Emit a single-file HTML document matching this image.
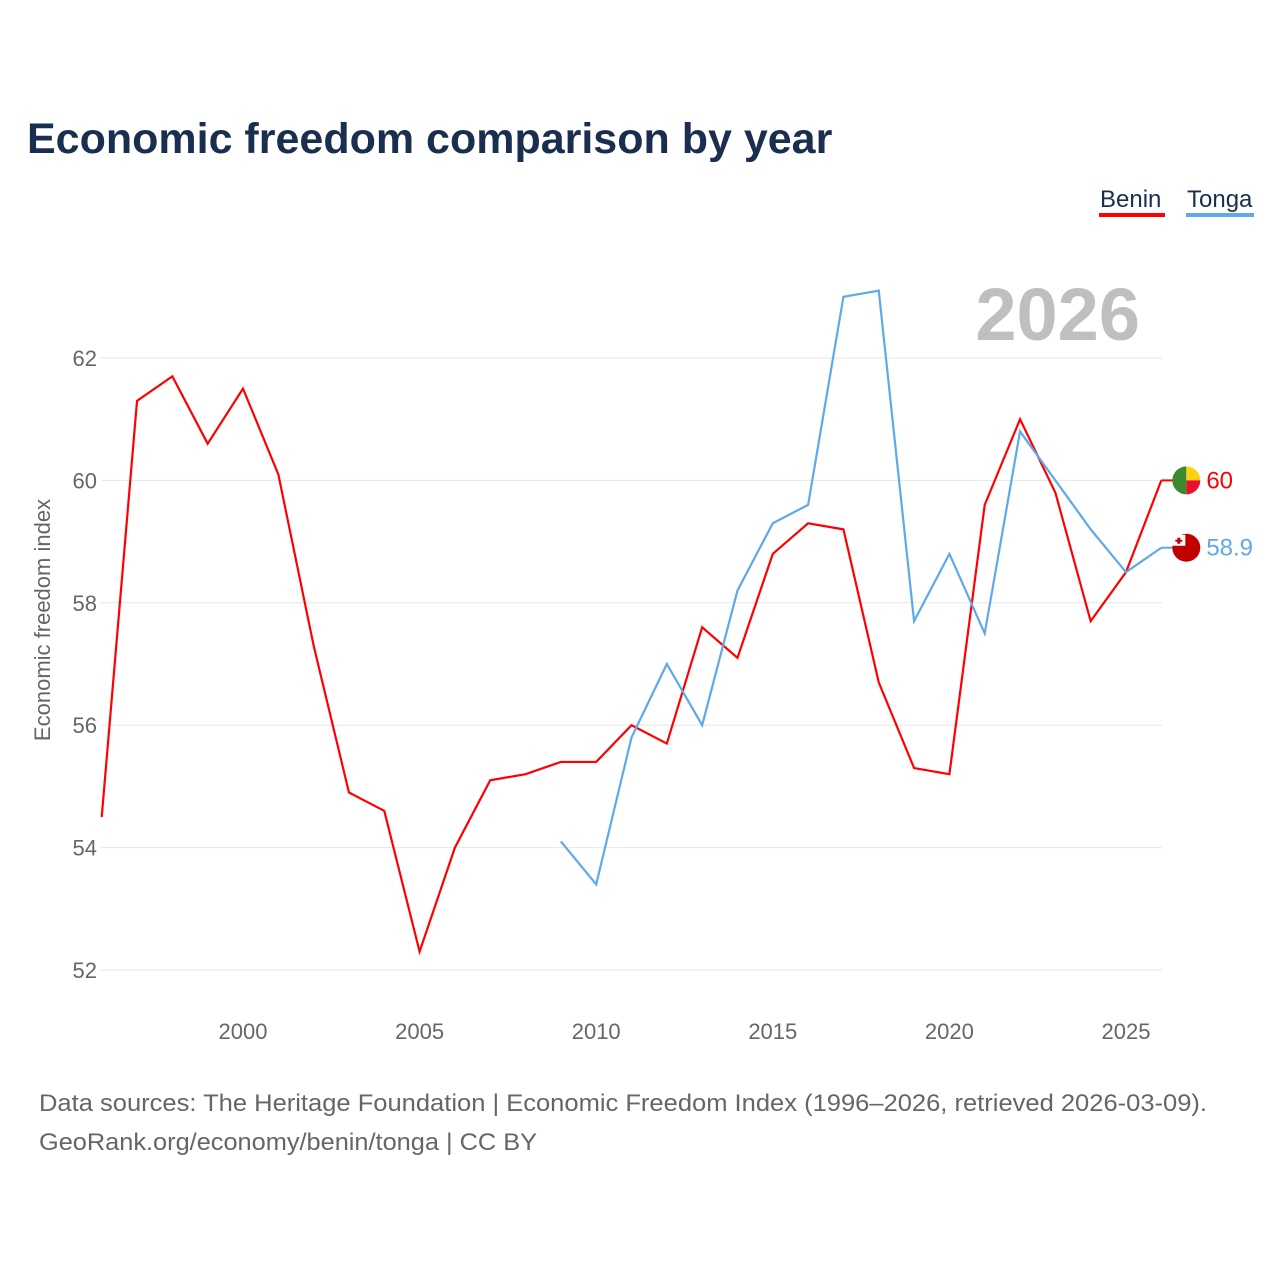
<!DOCTYPE html>
<html><head><meta charset="utf-8"><style>
body{margin:0;background:#fff;font-family:"Liberation Sans",sans-serif}
svg text{font-family:"Liberation Sans",sans-serif}
</style></head><body>
<svg width="1280" height="1280" viewBox="0 0 1280 1280">
<text x="27" y="153" font-size="43" font-weight="bold" fill="#1a2e50">Economic freedom comparison by year</text>
<g><text x="1100" y="207" font-size="24" fill="#1a2e50">Benin</text><rect x="1099" y="213" width="66" height="4" fill="#f00"/></g>
<g><text x="1187" y="207" font-size="24" fill="#1a2e50">Tonga</text><rect x="1186" y="213" width="68" height="4" fill="#5fa8ea"/></g>
<text x="1140" y="340" font-size="74" font-weight="bold" fill="#bfbfbf" text-anchor="end">2026</text>
<g id="grid"></g><g id="xt"></g><g id="yt"></g><g id="lines"></g>
<text transform="translate(50,620) rotate(-90)" font-size="22" fill="#666" text-anchor="middle">Economic freedom index</text>
<text x="39" y="1111" font-size="24" fill="#666" textLength="1168" lengthAdjust="spacingAndGlyphs">Data sources: The Heritage Foundation | Economic Freedom Index (1996–2026, retrieved 2026-03-09).</text>
<text x="39" y="1150" font-size="24" fill="#666" textLength="498" lengthAdjust="spacingAndGlyphs">GeoRank.org/economy/benin/tonga | CC BY</text>
</svg>
<script>
const years=[1996,1997,1998,1999,2000,2001,2002,2003,2004,2005,2006,2007,2008,2009,2010,2011,2012,2013,2014,2015,2016,2017,2018,2019,2020,2021,2022,2023,2024,2025,2026];
const benin=[54.5,61.3,61.7,60.6,61.5,60.1,57.3,54.9,54.6,52.3,54.0,55.1,55.2,55.4,55.4,56.0,55.7,57.6,57.1,58.8,59.3,59.2,56.7,55.3,55.2,59.6,61.0,59.8,57.7,58.5,60.0];
const tongaYears=[2009,2010,2011,2012,2013,2014,2015,2016,2017,2018,2019,2020,2021,2022,2023,2024,2025,2026];
const tonga=[54.1,53.4,55.8,57.0,56.0,58.2,59.3,59.6,63.0,63.1,57.7,58.8,57.5,60.8,60.0,59.2,58.5,58.9];
const yTicks=[52,54,56,58,60,62];
const xTicks=[2000,2005,2010,2015,2020,2025];
const NS="http://www.w3.org/2000/svg";
const x=v=>243+(v-2000)*35.32;
const y=v=>358+(62-v)*61.2;
function mk(t,a,p){const e=document.createElementNS(NS,t);for(const k in a)e.setAttribute(k,a[k]);p.appendChild(e);return e;}
const g=document.getElementById('grid'),yt=document.getElementById('yt'),xt=document.getElementById('xt'),L=document.getElementById('lines');
yTicks.forEach(v=>{
const l=mk('line',{x1:101,x2:1162,y1:y(v),y2:y(v),stroke:'#e6e6e6','stroke-width':1},g);


const t=mk('text',{x:97,y:y(v)+8,'font-size':22,fill:'#666','text-anchor':'end'},yt);t.textContent=v;


});
xTicks.forEach(v=>{
const t=mk('text',{x:x(v),y:1039,'font-size':22,fill:'#666','text-anchor':'middle'},xt);t.textContent=v;


});
const pb=mk('polyline',{points:years.map((yr,i)=>x(yr)+','+y(benin[i])).join(' '),fill:'none',stroke:'#f00','stroke-width':2.2},L);


const pt=mk('polyline',{points:tongaYears.map((yr,i)=>x(yr)+','+y(tonga[i])).join(' '),fill:'none',stroke:'#5fa8ea','stroke-width':2.2},L);


const bv=benin[benin.length-1],tv=tonga[tonga.length-1];
const bx=x(2026)+25,by=y(bv);
mk('line',{x1:x(2026),x2:bx-12,y1:by,y2:by,stroke:'#f00','stroke-width':2},L);
mk('path',{d:`M${bx},${by-14} A14,14 0 0,0 ${bx},${by+14} Z`,fill:'#3c8a2e'},L);
mk('path',{d:`M${bx},${by-14} A14,14 0 0,1 ${bx+14},${by} L${bx},${by} Z`,fill:'#fcd116'},L);
mk('path',{d:`M${bx},${by} L${bx+14},${by} A14,14 0 0,1 ${bx},${by+14} Z`,fill:'#e8112d'},L);
const lb=mk('text',{x:bx+20,y:by+8,'font-size':24,fill:'#f00'},L);lb.textContent=bv;


const ty=y(tv);
mk('line',{x1:x(2026),x2:bx-12,y1:ty,y2:ty,stroke:'#5fa8ea','stroke-width':2},L);
mk('circle',{cx:bx,cy:ty,r:14,fill:'#c10000'},L);
mk('rect',{x:bx-14,y:ty-13,width:13,height:11,fill:'#fff'},L);
mk('rect',{x:bx-9,y:ty-10,width:3,height:6,fill:'#c10000'},L);
mk('rect',{x:bx-11,y:ty-8,width:7,height:2,fill:'#c10000'},L);
const lt=mk('text',{x:bx+20,y:ty+8,'font-size':24,fill:'#5fa8ea'},L);lt.textContent=tv;


</script>
</body></html>
